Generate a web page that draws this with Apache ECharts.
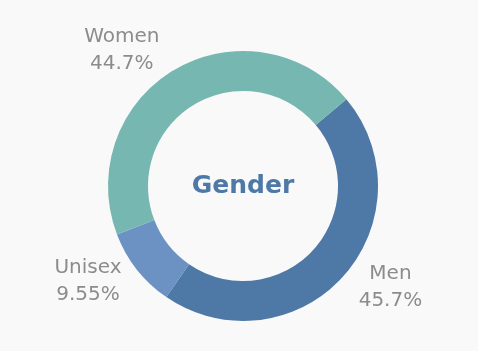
<!DOCTYPE html>
<html>
<head>
<meta charset="utf-8">
<script src="https://cdn.jsdelivr.net/npm/echarts@6/dist/echarts.min.js"></script>
<style>
html,body{margin:0;padding:0;background:#f9f9f9;}
#chart{width:478px;height:351px;}
</style>
</head>
<body>
<div id="chart"></div>
<script>
const categories = ['Men', 'Unisex', 'Women'];
const values = [45.7, 9.55, 44.7];
const colors = ['#4e79a7', '#6b92c2', '#76b7b2'];
const centerTitle = 'Gender';

// per-slice label layout tweaks (style, not data)
const labelLen = [15, 19, 22];
const labelBoxW = [63, 58, 73];

const chart = echarts.init(document.getElementById('chart'));
chart.setOption({
  backgroundColor: '#f9f9f9',
  animation: false,
  graphic: [{
    type: 'text',
    x: 243,
    y: 186,
    style: {
      text: centerTitle,
      fill: '#4e79a7',
      font: 'bold 25px "DejaVu Sans", Verdana, sans-serif',
      textAlign: 'center',
      textVerticalAlign: 'middle'
    }
  }],
  series: [{
    type: 'pie',
    center: [243, 186],
    radius: [95, 135],
    startAngle: 40,
    clockwise: true,
    avoidLabelOverlap: false,
    itemStyle: { borderWidth: 0 },
    label: {
      show: true,
      position: 'outside',
      formatter: '{t|{b}}\n{t|{c}%}'
    },
    labelLine: { show: false, length2: 0 },
    emphasis: { disabled: true },
    data: categories.map((c, i) => ({
      name: c,
      value: values[i],
      itemStyle: { color: colors[i] },
      labelLine: { show: false, length: labelLen[i], length2: 0 },
      label: {
        rich: {
          t: {
            width: labelBoxW[i],
            align: 'center',
            fontSize: 20,
            lineHeight: 27,
            color: '#8c8c8c',
            fontFamily: '"DejaVu Sans", Verdana, sans-serif'
          }
        }
      }
    }))
  }]
});
</script>
</body>
</html>
